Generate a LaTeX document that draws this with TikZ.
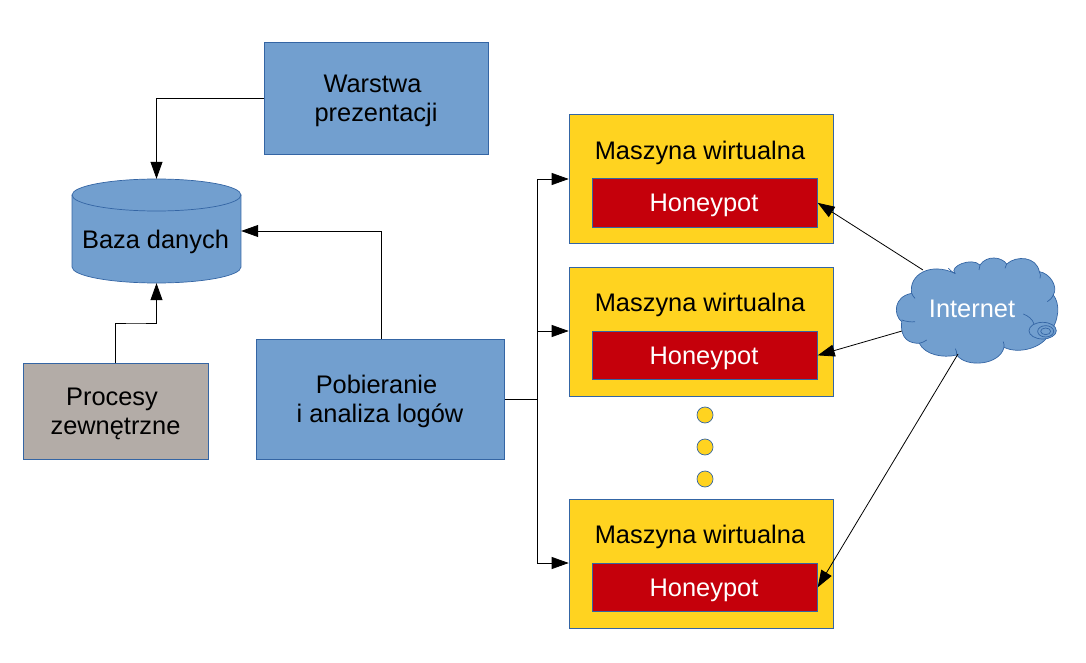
\documentclass[tikz,border=0pt]{standalone}
\usepackage{fontspec}
\setmainfont{Liberation Sans}
\usetikzlibrary{arrows.meta}
\definecolor{lblue}{HTML}{729FCF}
\definecolor{bord}{HTML}{3465A4}
\definecolor{vmy}{HTML}{FFD320}
\definecolor{hred}{HTML}{C5000B}
\definecolor{pgrey}{HTML}{B3ACA7}
\newcommand{\trail}{\hbox{\kern7pt}}
\tikzset{
  boxbase/.style={draw=bord,line width=0.7pt,anchor=north west,inner sep=0pt},
  bluebox/.style={boxbase,fill=lblue},
  greybox/.style={boxbase,fill=pgrey},
  vmbox/.style={boxbase,fill=vmy,minimum width=264pt,minimum height=128.5pt},
  potbox/.style={boxbase,fill=hred,minimum width=225pt,minimum height=48pt},
  lab/.style={font=\fontsize{25.4}{29}\selectfont,inner sep=0pt,align=center},
  potlab/.style={lab,text=white},
  dotn/.style={circle,draw=bord,line width=0.7pt,fill=vmy,minimum size=16pt,inner sep=0pt},
  conn/.style={line width=0.8pt,-{Triangle[length=17pt,width=12pt]}},
  plain/.style={line width=0.8pt},
  cloudln/.style={draw=bord,line width=0.7pt}
}
\begin{document}
\begin{tikzpicture}[x=1pt,y=-1pt]
\useasboundingbox (0,0) rectangle (1086,663);
\node[bluebox,minimum width=224.5pt,minimum height=112.5pt] (w) at (263.7,42) {};
\node[lab] (wt) at (376,101) {Warstwa\trail\\prezentacji};
\node[greybox,minimum width=184.5pt,minimum height=96pt] (p) at (23,363) {};
\node[lab] (pt) at (115.5,414) {Procesy\trail\\zewnętrzne};
\node[bluebox,minimum width=248.5pt,minimum height=120pt] (a) at (255.7,339) {};
\node[lab] (at) at (380,401) {Pobieranie\trail\\i analiza logów};
% database
\node[minimum width=169pt,minimum height=104pt,inner sep=0pt] (db) at (156.5,231) {};
\fill[lblue] (72,195) rectangle (241,267);
\fill[lblue] (156.5,267) ellipse[x radius=84.5,y radius=16];
\draw[cloudln] (72,195) -- (72,267) arc[x radius=84.5,y radius=16,start angle=180,end angle=0] -- (241,195);
\filldraw[fill=lblue,cloudln] (156.5,195) ellipse[x radius=84.5,y radius=16];
\node[lab] (dbt) at (155.5,242) {Baza danych};
% machines
\node[vmbox] (v1) at (568.7,114.5) {};
\node[vmbox] (v2) at (568.7,267) {};
\node[vmbox] (v3) at (568.7,499) {};
\node[lab] (l1) at (700,153) {Maszyna wirtualna};
\node[lab] (l2) at (700,305) {Maszyna wirtualna};
\node[lab] (l3) at (700,537) {Maszyna wirtualna};
\node[potbox] (h1) at (592,178.5) {};
\node[potbox] (h2) at (592,331) {};
\node[potbox] (h3) at (592,563) {};
\node[potlab] (t1) at (704,205.5) {Honeypot};
\node[potlab] (t2) at (704,358) {Honeypot};
\node[potlab] (t3) at (704,590) {Honeypot};
\node[dotn] (d1) at (705,415) {};
\node[dotn] (d2) at (705,447) {};
\node[dotn] (d3) at (705,479) {};
% cloud
\begin{scope}[shift={(880,240)},x=0.3333pt,y=-0.3333pt]
\filldraw[fill=lblue,cloudln] (95,160)
 .. controls (85,105) and (150,65) .. (225,100)
 .. controls (205,80) and (275,50) .. (300,75)
 .. controls (320,45) and (365,50) .. (380,72)
 .. controls (410,45) and (470,50) .. (478,95)
 .. controls (510,100) and (535,140) .. (520,165)
 .. controls (540,190) and (540,240) .. (505,285)
 .. controls (490,320) and (420,345) .. (372,322)
 .. controls (360,375) and (260,385) .. (230,345)
 .. controls (190,355) and (135,345) .. (118,310)
 .. controls (90,310) and (60,300) .. (65,245)
 .. controls (40,225) and (40,170) .. (95,160) -- cycle;
\draw[cloudln] (225,100) .. controls (215,95) and (210,90) .. (205,85);
\draw[cloudln] (300,75) -- (297,90);
\draw[cloudln] (380,72) -- (375,85);
\draw[cloudln] (478,95) .. controls (482,105) and (482,110) .. (480,115);
\draw[cloudln] (520,165) .. controls (515,175) and (510,180) .. (502,185);
\draw[cloudln] (95,160) .. controls (97,165) and (100,170) .. (105,175);
\draw[cloudln] (65,240) .. controls (80,245) and (95,247) .. (105,245);
\draw[cloudln] (118,310) .. controls (125,308) and (135,305) .. (140,300);
\draw[cloudln] (372,322) .. controls (372,315) and (372,310) .. (370,305);
\draw[cloudln] (230,345) .. controls (230,338) and (230,332) .. (226,326);
\draw[cloudln] (430,222) .. controls (445,228) and (458,238) .. (462,252);
\filldraw[fill=lblue,cloudln] (488,272) ellipse[x radius=41,y radius=25];
\draw[cloudln] (497,274) ellipse[x radius=24,y radius=17];
\draw[cloudln] (497,274) ellipse[x radius=15,y radius=10];
\end{scope}
\node[lab,text=white] (net) at (972,309) {Internet};
\coordinate (c1) at (923,270);
\coordinate (c2) at (902,331);
\coordinate (c3) at (958,354);
% connectors
\draw[conn] (w.west) -| (db.north);
\draw[conn] (p.north) |- (136,323) -| (db.south);
\draw[conn] (a.north -| 381,339) |- (db.east);
\coordinate (j) at (537,399);
\draw[plain] (a.east |- j) -- (j);
\draw[conn] (j) |- (v1.west |- 0,179);
\draw[conn] (j) |- (v2.west |- 0,331);
\draw[conn] (j) |- (v3.west |- 0,563);
\draw[conn] (c1) -- (h1.east);
\draw[conn] (c2) -- (h2.east);
\draw[conn] (c3) -- (h3.east);
\end{tikzpicture}
\end{document}
